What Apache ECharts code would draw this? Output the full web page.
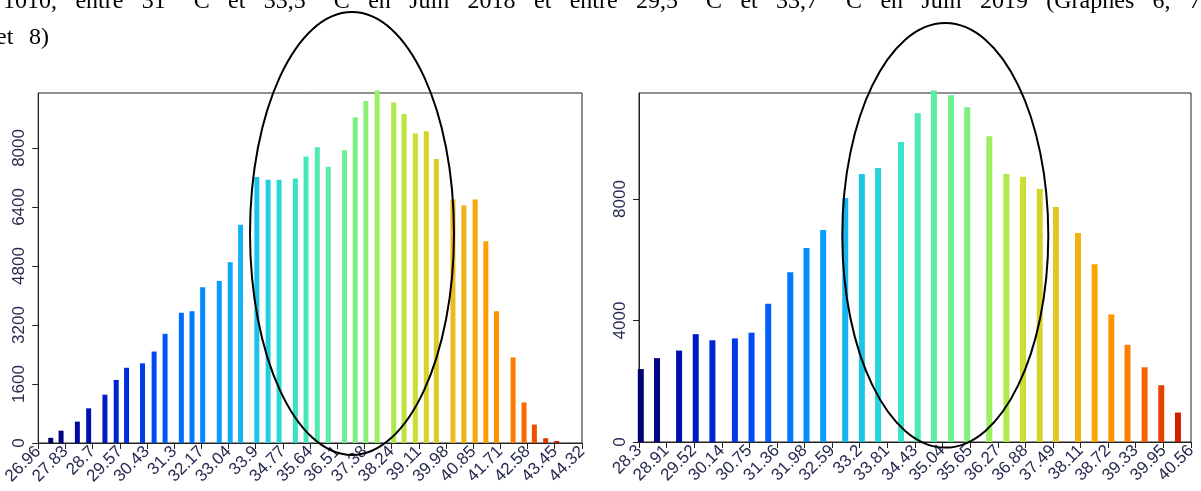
<!DOCTYPE html>
<html><head><meta charset="utf-8">
<script src="https://cdn.jsdelivr.net/npm/echarts@6/dist/echarts.min.js"></script>
<style>html,body{margin:0;padding:0;background:#fff;overflow:hidden}#c{width:1201px;height:491px}</style>
</head><body><div id="c"></div>
<script>
// ---- data ----
const leftX = [27.36, 27.69, 28.21, 28.57, 29.09, 29.45, 29.78, 30.29, 30.66, 31.01, 31.53, 31.87, 32.21, 32.74, 33.09, 33.42, 33.94, 34.30, 34.65, 35.17, 35.51, 35.87, 36.22, 36.74, 37.08, 37.42, 37.78, 38.31, 38.64, 39.00, 39.35, 39.67, 40.20, 40.55, 40.91, 41.25, 41.59, 42.12, 42.47, 42.80, 43.16, 43.51];
const leftY = [140, 335, 580, 940, 1310, 1710, 2040, 2160, 2480, 2960, 3530, 3570, 4220, 4390, 4900, 5920, 7210, 7140, 7140, 7170, 7770, 8020, 7490, 7940, 8830, 9270, 9560, 9230, 8920, 8390, 8450, 7700, 6600, 6440, 6600, 5470, 3570, 2320, 1100, 500, 130, 55];
const rightX = [28.34, 28.70, 29.19, 29.56, 29.93, 30.43, 30.80, 31.17, 31.66, 32.02, 32.39, 32.88, 33.25, 33.61, 34.12, 34.49, 34.85, 35.23, 35.59, 36.08, 36.46, 36.83, 37.20, 37.56, 38.05, 38.42, 38.79, 39.15, 39.53, 39.90, 40.27];
const rightY = [2400, 2760, 3010, 3550, 3350, 3410, 3600, 4550, 5590, 6390, 6980, 8030, 8820, 9020, 9880, 10820, 11570, 11420, 11020, 10070, 8820, 8730, 8330, 7740, 6880, 5850, 4200, 3200, 2460, 1870, 970];
const leftXTicks = ['26.96','27.83','28.7','29.57','30.43','31.3','32.17','33.04','33.9','34.77','35.64','36.51','37.38','38.24','39.11','39.98','40.85','41.71','42.58','43.45','44.32'];
const rightXTicks = ['28.3','28.91','29.52','30.14','30.75','31.36','31.98','32.59','33.2','33.81','34.43','35.04','35.65','36.27','36.88','37.49','38.11','38.72','39.33','39.95','40.56'];
const leftYTicks = [0, 1600, 3200, 4800, 6400, 8000];
const rightYTicks = [0, 4000, 8000];
const headerLine1 = '1010, entre 31 °C et 33,5 °C en Juin 2018 et entre 29,5 °C et 33,7 °C en Juin 2019 (Graphes 6, 7,';
const headerLine2 = 'et 8)';

// ---- styles ----
const ramp = ['#000070','#0010b0','#0028d8','#0050f8','#0080ff','#10a8f8','#20d0e0','#40e8c0','#68f098','#98f068','#c8e030','#e8c020','#ffa000','#ff7000','#d02000'];
const ink = '#222';
const labelColor = '#262a50';
const labelFont = 'Liberation Sans';
const docFont = '24px "Liberation Serif"';

function xAxisFor(grid, ticks) {
  const vals = ticks.map(Number);
  const lut = {}; ticks.forEach(t => { lut[String(Number(t))] = t; });
  return {
    gridIndex: grid, type: 'value', min: vals[0], max: vals[vals.length - 1],
    axisLine: { show: true, onZero: false, lineStyle: { color: ink, width: 1 } },
    axisTick: { show: true, length: 6, customValues: vals, lineStyle: { color: ink } },
    axisLabel: { customValues: vals, rotate: 45, margin: 6, fontSize: 17, fontFamily: labelFont, color: labelColor,
      formatter: v => lut[String(v)] || String(v) },
    splitLine: { show: false }
  };
}
function yAxisFor(grid, ticks, max) {
  return {
    gridIndex: grid, type: 'value', min: 0, max: max,
    axisLine: { show: true, lineStyle: { color: ink, width: 1 } },
    axisTick: { show: true, length: 6, customValues: ticks, lineStyle: { color: ink } },
    axisLabel: { customValues: ticks, rotate: 90, margin: 10, fontSize: 17, fontFamily: labelFont, color: labelColor,
      formatter: v => String(v) },
    splitLine: { show: false }
  };
}

// justified text line (document text behind the charts)
function justified(text, x0, x1, y) {
  const ctx = document.createElement('canvas').getContext('2d');
  ctx.font = docFont;
  const words = text.split(' ');
  const widths = words.map(w => ctx.measureText(w).width);
  const total = widths.reduce((a, b) => a + b, 0);
  const gap = (x1 - x0 - total) / (words.length - 1);
  const out = []; let x = x0;
  words.forEach((w, i) => {
    out.push({ type: 'text', x: x, y: y, z: 100, style: { text: w, font: docFont, fill: '#000', textVerticalAlign: 'top' } });
    x += widths[i] + gap;
  });
  return out;
}

const chart = echarts.init(document.getElementById('c'), null, { renderer: 'canvas' });
chart.setOption({
  animation: false,
  backgroundColor: '#fff',
  grid: [
    { left: 36, top: 93, width: 546, height: 350, show: true, borderColor: ink, borderWidth: 1, backgroundColor: 'transparent' },
    { left: 639, top: 93, width: 552, height: 349, show: true, borderColor: ink, borderWidth: 1, backgroundColor: 'transparent' }
  ],
  xAxis: [xAxisFor(0, leftXTicks), xAxisFor(1, rightXTicks)],
  yAxis: [yAxisFor(0, leftYTicks, 9490), yAxisFor(1, rightYTicks, 11490)],
  visualMap: [
    { show: false, type: 'continuous', seriesIndex: 0, dimension: 0, min: leftX[0], max: leftX[leftX.length - 1], inRange: { color: ramp } },
    { show: false, type: 'continuous', seriesIndex: 1, dimension: 0, min: rightX[0], max: rightX[rightX.length - 1], inRange: { color: ramp } }
  ],
  series: [
    { type: 'bar', xAxisIndex: 0, yAxisIndex: 0, barWidth: 5, clip: false,
      data: leftX.map((x, i) => [x, leftY[i]]) },
    { type: 'bar', xAxisIndex: 1, yAxisIndex: 1, barWidth: 6, clip: false,
      data: rightX.map((x, i) => [x, rightY[i]]) }
  ],
  graphic: [].concat(
    justified(headerLine1, 3, 1207, -10),
    justified(headerLine2, -4, 49, 26),
    [
      { type: 'ellipse', z: 100, shape: { cx: 352, cy: 233.5, rx: 102, ry: 221.5 }, style: { fill: 'none', stroke: '#000', lineWidth: 2 } },
      { type: 'ellipse', z: 100, shape: { cx: 945.3, cy: 235.3, rx: 103, ry: 212.3 }, style: { fill: 'none', stroke: '#000', lineWidth: 2 } }
    ]
  )
});
</script>
</body></html>
